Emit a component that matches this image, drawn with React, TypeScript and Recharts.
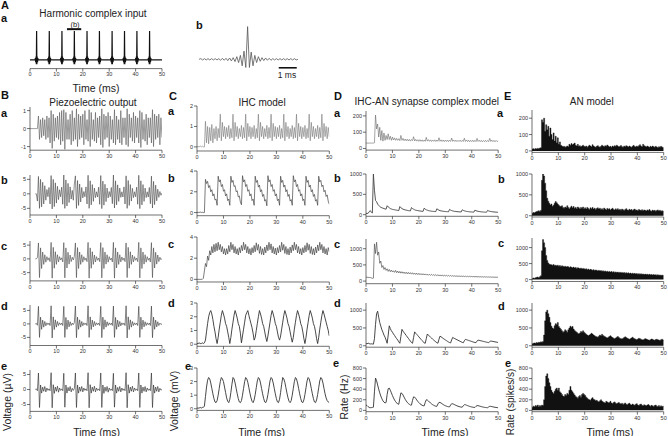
import { ReactNode } from "react";
import { Area, AreaChart, Line, LineChart, ReferenceLine, XAxis, YAxis } from "recharts";

// sampling step of the traces in columns B-E (ms per value)
const STEP = 0.4;
const timeTicks = [0, 10, 20, 30, 40, 50];

// A: harmonic complex input (time in ms, relative amplitude)
const inputT = [
  0,
  1.9, 2.05, 2.15, 2.3, 2.4, 2.5, 2.6, 2.7, 2.85, 2.95, 3.1,
  6.7, 6.85, 6.95, 7.1, 7.2, 7.3, 7.4, 7.5, 7.65, 7.75, 7.9,
  11.5, 11.65, 11.75, 11.9, 12.0, 12.1, 12.2, 12.3, 12.45, 12.55, 12.7,
  16.2, 16.35, 16.45, 16.6, 16.7, 16.8, 16.9, 17.0, 17.15, 17.25, 17.4,
  21.0, 21.15, 21.25, 21.4, 21.5, 21.6, 21.7, 21.8, 21.95, 22.05, 22.2,
  25.7, 25.85, 25.95, 26.1, 26.2, 26.3, 26.4, 26.5, 26.65, 26.75, 26.9,
  30.5, 30.65, 30.75, 30.9, 31.0, 31.1, 31.2, 31.3, 31.45, 31.55, 31.7,
  35.2, 35.35, 35.45, 35.6, 35.7, 35.8, 35.9, 36.0, 36.15, 36.25, 36.4,
  39.9, 40.05, 40.15, 40.3, 40.4, 40.5, 40.6, 40.7, 40.85, 40.95, 41.1,
  44.7, 44.85, 44.95, 45.1, 45.2, 45.3, 45.4, 45.5, 45.65, 45.75, 45.9,
  50,
];
const inputV = [
  0,
  0, .06, -.08, .12, -.15, 1, -.15, .12, -.08, .06, 0,
  0, .06, -.08, .12, -.15, 1, -.15, .12, -.08, .06, 0,
  0, .06, -.08, .12, -.15, 1, -.15, .12, -.08, .06, 0,
  0, .06, -.08, .12, -.15, 1, -.15, .12, -.08, .06, 0,
  0, .06, -.08, .12, -.15, 1, -.15, .12, -.08, .06, 0,
  0, .06, -.08, .12, -.15, 1, -.15, .12, -.08, .06, 0,
  0, .06, -.08, .12, -.15, 1, -.15, .12, -.08, .06, 0,
  0, .06, -.08, .12, -.15, 1, -.15, .12, -.08, .06, 0,
  0, .06, -.08, .12, -.15, 1, -.15, .12, -.08, .06, 0,
  0, .06, -.08, .12, -.15, 1, -.15, .12, -.08, .06, 0,
  0,
];
const zoomWindow = [14, 19.4];

// A b: one period, 0.1 ms per value
const periodStep = 0.1;
const periodWave = [
  0, .02, -.02, .02, -.02, .02, -.02, .02, -.02, .02,
  -.02, .02, -.03, .03, -.03, .03, -.04, .04, -.05, .05,
  -.07, .08, -.1, .12, -.2, .25, -.25, 1, -.25, .22,
  -.2, .12, -.1, .08, -.06, .05, -.04, .04, -.03, .03,
  -.03, .02, -.02, .02, -.02, .02, -.02, .02, -.02, .02,
  -.02, .02, -.02, .02, -.02, 0,
];
const scaleBar = [4.43, 5.43];

// B: piezoelectric output (µV, a in arbitrary units)
const piezoA = [
  0, 0, 0, 0, 0, 0, 0, 0,
  .7, -.6, .5, -.5, .6, -.4, .5, -.6, .7, -.5, .6, -.8,
  1.0, -1.1, .8, -.7, .6, -.5, .7, -.6, .9, -.9, 1.0, -.7,
  1.05, -1.15, .9, -.6, .5, -.6, .8, -.9, 1.0, -.7, .6,
  -.6, 1.1, -1.0, .8, -.6, .7, -.5, .8, -.9, 1.0, -.6, .5,
  -.7, 1.05, -1.0, .9, -.6, .5, -.7, .9, -.8, .6, -.5, .7,
  -.9, 1.1, -1.05, .8, -.6, .7, -.5, .9, -1.0, .7, -.6, .5,
  -.8, 1.05, -.9, .7, -.6, .5, -.8, 1.0, -.9, .6, -.5, .6,
  -.9, 1.1, -1.0, .8, -.5, .6, -.7, .9, -.8, .7, -.5, .6,
  -.8, 1.0, -1.05, .9, -.6, .5, -.7, .8, -.9, .6, -.5, .6,
  -.8, 1.05, -1.0, .8, -.6, .7, -.5, .8, -.9, .6, -.5,
];
const piezoB = [
  null, null, null, null, null, 0, 0, -2.5,
  6, -5, 5, -4.5, 4, -3.5, 2.8, -2.2, 1.5, -1, 2.2, -3.5,
  6.3, -5.2, 5, -4.4, 3.8, -3.2, 2.6, -2, 1.4, -1, 2.3, -3.6,
  6.5, -5, 4.8, -4.2, 3.6, -3, 2.4, -1.8, 1.2, -2.2, 3.4,
  6.2, -5, 4.6, -4, 3.4, -2.8, 2.2, -1.4, .8, -1, 2.4, -3.5,
  6.4, -5, 4.5, -3.8, 3.2, -2.6, 2, -1.3, .7, -1.1, 2.3, -3.6,
  6.3, -5.1, 4.4, -3.9, 3.3, -2.7, 2, -1.4, .8, -1, 2.2, -3.4,
  6.5, -4.9, 4.5, -3.8, 3.1, -2.6, 2, -1.2, .7, -1.1, 2.4, -3.5,
  6.2, -5, 4.6, -4, 3.2, -2.5, 1.9, -1.3, .7, -1, 2.3, -3.6,
  6.4, -5.1, 4.5, -3.8, 3.2, -2.6, 2, -1.3, .7, -1.1, 2.2, -3.4,
  6.1, -4.9, 4.3, -3.7, 3, -2.4, 1.6, -1.2, .8, -.5, .3,
];
const piezoC = [
  null, null, null, null, null, 0, 0, .5,
  5.8, -6.8, 4, -3.5, 2.5, -2, 1.5, -1.2, .8, -.5, .4, -1,
  6, -7, 4.2, -3.4, 2.6, -2, 1.5, -1.1, .8, -.4, .4, -1.1,
  5.9, -6.9, 4, -3.3, 2.4, -1.9, 1.4, -1, .6, -.4, .9,
  5.8, -6.8, 4.1, -3.5, 2.5, -2, 1.5, -1.2, .8, -.5, .3, -1,
  6, -7, 4, -3.4, 2.6, -2, 1.4, -1.1, .8, -.5, .3, -1,
  5.9, -6.9, 4.1, -3.5, 2.5, -1.9, 1.5, -1.2, .8, -.4, .3, -1.1,
  6, -7, 4, -3.3, 2.5, -2, 1.5, -1.1, .7, -.5, .3, -1,
  5.8, -6.8, 4.2, -3.4, 2.6, -2, 1.4, -1.1, .8, -.5, .3, -1,
  6, -6.9, 4, -3.5, 2.5, -1.9, 1.5, -1.2, .8, -.5, .3, -1.1,
  5.9, -6.8, 4, -3.3, 2.4, -1.9, 1.4, -1, .6, -.3, .2,
];
const piezoD = [
  null, null, null, null, null, 0, .2, -.5,
  6.5, -5, 2.5, -2, 1.4, -1.2, .9, -.7, .4, -.3, .3, -.6,
  6.7, -5.2, 2.6, -2.1, 1.5, -1.2, .9, -.6, .4, -.3, .3, -.6,
  6.5, -5, 2.4, -2, 1.4, -1.1, .8, -.6, .3, -.3, .5,
  6.6, -5.1, 2.5, -2, 1.5, -1.2, .9, -.7, .4, -.3, .3, -.6,
  6.7, -5, 2.6, -2.1, 1.4, -1.1, .9, -.6, .4, -.3, .3, -.6,
  6.5, -5.1, 2.5, -2, 1.5, -1.2, .8, -.6, .4, -.3, .3, -.6,
  6.6, -5, 2.4, -2, 1.4, -1.1, .9, -.7, .4, -.3, .3, -.6,
  6.7, -5.2, 2.6, -2.1, 1.5, -1.2, .9, -.6, .4, -.3, .3, -.6,
  6.5, -5, 2.5, -2, 1.4, -1.1, .8, -.6, .4, -.3, .3, -.6,
  6.6, -5.1, 2.5, -2, 1.4, -1.1, .8, -.6, .3, -.2, 0,
];
const piezoE = [
  null, null, null, null, null, 0, .2, -.4,
  5.5, -6, 1.5, -1.2, .8, -.6, 1, -.8, .5, -.3, .2, -.4,
  5.6, -6.1, 1.6, -1.3, .8, -.6, 1.1, -.9, .5, -.3, .2, -.4,
  5.4, -5.9, 1.5, -1.2, .7, -.5, 1, -.8, .4, -.3, .3,
  5.5, -6, 1.5, -1.2, .8, -.6, 1, -.8, .5, -.3, .2, -.4,
  5.6, -6.1, 1.6, -1.2, .8, -.6, 1.1, -.8, .5, -.3, .2, -.4,
  5.5, -6, 1.5, -1.3, .8, -.6, 1, -.9, .5, -.3, .2, -.4,
  5.4, -5.9, 1.5, -1.2, .7, -.6, 1, -.8, .5, -.3, .2, -.4,
  5.6, -6.1, 1.6, -1.2, .8, -.6, 1.1, -.8, .5, -.3, .2, -.4,
  5.5, -6, 1.5, -1.2, .8, -.6, 1, -.8, .5, -.3, .2, -.4,
  5.5, -6, 1.5, -1.2, .8, -.6, 1, -.8, .4, -.2, 0,
];

// C: IHC model (mV)
const ihcA = [
  0, .02, 0, .05, 0, .04, 0, 0, 1.25, .2,
  1.0, .15, .95, .3, 1.1, .2, .9, .4, 1.0, .3,
  .9, .45, 1.6, .3, 1.2, .5, 1.0, .4, .95, .5,
  1.05, .4, .9, .45, 1.6, .3, 1.2, .5, 1.0, .4,
  .9, .5, 1.05, .4, .95, .45, 1.6, .3, 1.15, .5,
  1.0, .4, .95, .5, 1.05, .4, .9, .45, 1.6, .3,
  1.2, .5, 1.0, .4, .9, .5, 1.05, .4, .95, .45,
  1.6, .3, 1.15, .5, 1.0, .4, .95, .5, 1.05, .4,
  .9, .45, 1.6, .3, 1.2, .5, 1.0, .4, .9, .5,
  1.05, .4, .95, .45, 1.6, .3, 1.15, .5, 1.0, .4,
  .95, .5, 1.05, .4, .9, .45, 1.6, .3, 1.2, .5,
  1.0, .4, .9, .5, 1.05, .4, .95, .45, 1.6, .3,
  1.15, .5, 1.0, .4, .95, .5,
];
const ihcB = [
  0, .03, 0, .06, 0, .03, 0, 0, 3.2, 2.8,
  3.0, 2.4, 2.6, 2.0, 2.2, 1.6, 1.8, 1.2, 1.3, .7,
  3.5, 2.95, 3.15, 2.5, 2.7, 2.05, 2.2, 1.6, 1.8, 1.15,
  1.3, .7, 3.5, 2.9, 3.1, 2.5, 2.6, 2.0, 2.1, 1.5,
  1.6, 1.0, .75, 3.55, 2.95, 3.15, 2.5, 2.7, 2.05, 2.2,
  1.6, 1.8, 1.15, 1.3, .7, 3.5, 2.9, 3.1, 2.45, 2.65,
  2.0, 2.2, 1.55, 1.75, 1.1, 1.25, .65, 3.55, 2.95, 3.15,
  2.5, 2.7, 2.05, 2.2, 1.6, 1.8, 1.15, 1.3, .7, 3.5,
  2.9, 3.1, 2.45, 2.65, 2.0, 2.2, 1.55, 1.75, 1.1, 1.25,
  .7, 3.55, 2.95, 3.15, 2.5, 2.7, 2.05, 2.2, 1.6, 1.8,
  1.15, 1.3, .7, 3.5, 2.9, 3.1, 2.45, 2.65, 2.0, 2.2,
  1.55, 1.75, 1.1, 1.25, .7, 3.5, 2.95, 3.1, 2.5, 2.65,
  2.0, 2.15, 1.55, 1.7, 1.1, .8,
];
const ihcC = [
  0, 0, 0, 0, 0, 0, .1, .8, 1.5, 1.2,
  2.2, 1.8, 2.7, 2.3, 3.1, 2.5, 3.3, 2.6, 3.4, 2.7,
  3.5, 2.8, 3.3, 2.6, 3.1, 2.4, 2.9, 2.3, 2.9, 2.4,
  3.2, 2.6, 3.5, 2.8, 3.3, 2.5, 3.1, 2.4, 2.9, 2.3,
  3.0, 2.5, 3.2, 2.7, 3.5, 2.8, 3.3, 2.5, 3.1, 2.4,
  2.9, 2.3, 3.0, 2.5, 3.2, 2.6, 3.45, 2.75, 3.3, 2.45,
  3.1, 2.35, 2.9, 2.3, 3.05, 2.5, 3.25, 2.7, 3.5, 2.8,
  3.35, 2.5, 3.1, 2.4, 2.95, 2.3, 3.0, 2.5, 3.2, 2.6,
  3.5, 2.75, 3.3, 2.45, 3.1, 2.35, 2.9, 2.3, 3.05, 2.5,
  3.25, 2.7, 3.5, 2.8, 3.3, 2.5, 3.1, 2.4, 2.9, 2.3,
  3.0, 2.5, 3.2, 2.6, 3.45, 2.75, 3.3, 2.45, 3.1, 2.35,
  2.9, 2.3, 3.05, 2.5, 3.25, 2.7, 3.5, 2.8, 3.3, 2.5,
  3.1, 2.4, 2.9, 2.3, 3.0, 2.6,
];
const ihcD = [
  .05, .05, .1, .05, .05, .1, .05, .1, .3, .9,
  1.5, 2.0, 2.3, 2.45, 2.2, 1.8, 1.3, .9, .4, .05,
  .5, 1.1, 1.6, 2.1, 2.45, 2.2, 1.9, 1.5, 1.3, .9,
  .5, .05, .5, 1.1, 1.6, 2.1, 2.45, 2.2, 1.9, 1.5,
  1.3, .8, .1, .6, 1.1, 1.6, 2.1, 2.3, 2.45, 2.1,
  1.8, 1.5, 1.2, .8, .3, .5, 1.0, 1.5, 2.0, 2.45,
  2.2, 1.9, 1.5, 1.3, .9, .5, .2, .6, 1.1, 1.6,
  2.1, 2.45, 2.2, 1.9, 1.5, 1.3, .9, .5, .3, .6,
  1.1, 1.6, 2.1, 2.45, 2.2, 1.9, 1.5, 1.3, .9, .5,
  .15, .5, 1.1, 1.6, 2.1, 2.45, 2.2, 1.9, 1.5, 1.3,
  .9, .4, .05, .5, 1.1, 1.6, 2.1, 2.45, 2.2, 1.9,
  1.5, 1.3, .9, .4, .05, .5, 1.1, 1.6, 2.1, 2.45,
  2.2, 1.9, 1.6, 1.3, 1.0, .6,
];
const ihcE = [
  .05, .05, .05, .1, .05, .1, .1, .2, .9, 1.6,
  2.1, 2.3, 2.2, 1.9, 1.5, 1.1, .75, .5, .45, .6,
  1.0, 1.5, 2.0, 2.3, 2.2, 2.0, 1.6, 1.2, .8, .55,
  .45, .7, 1.2, 1.8, 2.3, 2.2, 1.9, 1.5, 1.1, .75,
  .5, .45, .6, 1.0, 1.5, 2.0, 2.3, 2.2, 1.95, 1.55,
  1.15, .8, .55, .45, .65, 1.05, 1.55, 2.05, 2.3, 2.2,
  1.9, 1.5, 1.1, .75, .5, .45, .65, 1.05, 1.55, 2.05,
  2.3, 2.2, 1.9, 1.5, 1.1, .75, .5, .45, .7, 1.2,
  1.8, 2.3, 2.2, 1.95, 1.55, 1.15, .8, .55, .45, .6,
  1.0, 1.5, 2.0, 2.3, 2.2, 1.9, 1.5, 1.1, .75, .5,
  .45, .65, 1.05, 1.55, 2.05, 2.3, 2.2, 1.9, 1.5, 1.1,
  .75, .5, .45, .65, 1.05, 1.55, 2.05, 2.3, 2.2, 1.9,
  1.5, 1.1, .8, .6, .5, .45,
];

// D: IHC-AN synapse model (Hz)
const synA = [
  33, 33, 33, 33, 33, 33, 33, 33, 35, 205,
  120, 150, 70, 130, 50, 110, 45, 95, 50, 80,
  55, 90, 55, 75, 50, 70, 52, 65, 50, 62,
  50, 60, 48, 80, 50, 62, 48, 58, 47, 57,
  46, 56, 45, 55, 48, 72, 46, 56, 45, 54,
  44, 54, 44, 53, 43, 52, 44, 68, 45, 54,
  44, 53, 43, 52, 44, 53, 43, 52, 44, 66,
  44, 53, 43, 52, 42, 51, 43, 52, 42, 51,
  43, 64, 44, 52, 43, 51, 42, 50, 43, 51,
  42, 50, 43, 63, 43, 52, 42, 51, 41, 50,
  42, 51, 41, 50, 42, 62, 43, 51, 42, 50,
  41, 49, 42, 50, 41, 49, 42, 62, 43, 51,
  42, 50, 41, 49, 42, 48,
];
const synB = [
  30, 30, 35, 70, 100, 60, 40, 1000, 600, 350,
  320, 260, 230, 200, 180, 170, 160, 150, 140, 135,
  220, 190, 170, 150, 140, 130, 125, 120, 115, 110,
  105, 100, 200, 170, 150, 135, 125, 118, 112, 106,
  100, 96, 92, 175, 150, 135, 120, 110, 105, 100,
  95, 90, 87, 84, 82, 160, 135, 120, 110, 100,
  95, 90, 85, 82, 80, 78, 76, 145, 125, 110,
  100, 92, 88, 84, 80, 77, 75, 73, 71, 130,
  112, 100, 92, 86, 81, 78, 75, 72, 70, 68,
  66, 120, 105, 95, 87, 81, 77, 73, 70, 68,
  66, 64, 62, 112, 98, 88, 82, 77, 73, 70,
  67, 65, 63, 61, 60, 105, 92, 84, 78, 73,
  70, 67, 64, 62, 60, 58,
];
const synC = [
  120, 118, 115, 112, 110, 100, 85, 90, 1150, 850,
  1200, 800, 900, 550, 620, 420, 480, 360, 420, 330,
  380, 300, 360, 290, 340, 280, 320, 270, 330, 260,
  310, 250, 300, 245, 290, 240, 280, 230, 275, 225,
  270, 220, 262, 215, 258, 210, 250, 205, 245, 200,
  240, 195, 232, 192, 228, 188, 222, 185, 218, 180,
  212, 178, 208, 175, 202, 172, 198, 168, 195, 165,
  190, 162, 186, 160, 182, 158, 178, 155, 175, 152,
  172, 150, 168, 148, 165, 146, 162, 144, 160, 142,
  158, 140, 155, 138, 153, 136, 150, 135, 148, 133,
  146, 132, 144, 130, 142, 128, 140, 127, 138, 126,
  136, 124, 134, 123, 132, 122, 130, 120, 128, 119,
  126, 118, 124, 116, 122, 118,
];
const synD = [
  60, 55, 75, 60, 50, 55, 50, 45, 200, 600,
  900, 970, 800, 650, 550, 450, 380, 300, 240, 160,
  70, 300, 560, 480, 420, 380, 330, 290, 240, 200,
  160, 110, 70, 260, 460, 410, 370, 330, 290, 250,
  210, 170, 130, 90, 70, 230, 390, 350, 320, 285,
  250, 215, 180, 150, 115, 80, 70, 200, 330, 300,
  270, 240, 215, 185, 160, 135, 110, 85, 72, 180,
  270, 250, 230, 205, 185, 165, 145, 125, 105, 90,
  80, 165, 235, 215, 200, 185, 170, 155, 140, 125,
  110, 95, 85, 140, 180, 170, 160, 150, 140, 130,
  120, 110, 100, 92, 88, 130, 160, 152, 145, 138,
  130, 122, 115, 108, 100, 94, 90, 115, 132, 128,
  122, 116, 110, 104, 98, 92,
];
const synE = [
  100, 90, 70, 55, 50, 52, 55, 60, 350, 610,
  560, 480, 400, 330, 270, 220, 180, 155, 140, 150,
  300, 410, 420, 380, 330, 280, 235, 195, 165, 140,
  120, 115, 230, 330, 320, 290, 250, 210, 180, 150,
  130, 115, 100, 100, 190, 255, 250, 225, 195, 170,
  145, 125, 110, 97, 88, 85, 150, 200, 195, 178,
  158, 138, 122, 108, 96, 86, 78, 76, 120, 150,
  150, 138, 124, 110, 98, 88, 80, 73, 68, 66,
  100, 125, 124, 115, 105, 95, 86, 78, 72, 66,
  62, 60, 88, 107, 106, 98, 90, 82, 75, 69,
  64, 60, 57, 55, 76, 90, 89, 83, 77, 71,
  66, 61, 57, 54, 52, 50, 65, 76, 76, 71,
  66, 62, 58, 55, 52, 50,
];

// E: AN model PSTHs (spikes/s), 0.4 ms bins
const anA = [
  12, 14, 10, 15, 12, 16, 14, 18, 20, 190,
  175, 200, 120, 160, 130, 150, 90, 140, 100, 70,
  110, 60, 90, 50, 80, 40, 55, 35, 30, 25,
  28, 22, 26, 30, 25, 40, 35, 45, 38, 42,
  48, 35, 30, 40, 28, 32, 25, 30, 35, 28,
  25, 30, 22, 28, 35, 30, 26, 38, 30, 25,
  22, 28, 32, 26, 22, 28, 35, 30, 25, 32,
  28, 36, 30, 24, 28, 22, 30, 26, 32, 28,
  35, 30, 24, 28, 33, 26, 22, 30, 25, 32,
  28, 24, 30, 26, 22, 28, 34, 27, 24, 30,
  26, 32, 38, 30, 26, 40, 32, 28, 24, 30,
  26, 22, 28, 24, 30, 26, 22, 28, 24, 20,
  26, 22, 28, 24, 20, 22,
];
const anB = [
  60, 80, 70, 90, 100, 110, 120, 100, 130, 850,
  1000, 950, 780, 600, 420, 350, 300, 260, 280, 230,
  250, 300, 340, 310, 280, 250, 230, 220, 240, 200,
  180, 210, 190, 240, 200, 170, 200, 230, 190, 220,
  180, 200, 170, 210, 190, 160, 200, 180, 210, 170,
  190, 160, 200, 175, 150, 190, 170, 200, 160, 180,
  150, 175, 190, 160, 180, 150, 170, 145, 185, 160,
  140, 175, 155, 170, 140, 160, 180, 150, 135, 165,
  145, 170, 140, 155, 130, 160, 145, 125, 150, 170,
  140, 130, 155, 135, 150, 125, 145, 160, 130, 140,
  120, 150, 135, 125, 145, 120, 140, 130, 115, 140,
  125, 150, 120, 110, 135, 120, 130, 110, 125, 140,
  115, 130, 105, 120, 110, 100,
];
const anC = [
  30, 50, 40, 60, 70, 80, 60, 90, 120, 900,
  1250, 1150, 1000, 750, 600, 520, 480, 470, 460, 450,
  470, 440, 450, 430, 450, 420, 440, 410, 430, 420,
  400, 420, 390, 410, 400, 380, 400, 385, 370, 390,
  360, 380, 350, 370, 360, 340, 360, 330, 350, 340,
  320, 340, 310, 330, 300, 320, 310, 290, 310, 280,
  300, 290, 270, 290, 265, 280, 260, 275, 250, 270,
  245, 260, 240, 255, 235, 250, 230, 245, 225, 240,
  220, 235, 215, 230, 210, 225, 205, 220, 200, 215,
  195, 210, 190, 205, 185, 200, 180, 195, 175, 190,
  170, 185, 168, 180, 165, 175, 160, 172, 155, 168,
  150, 165, 148, 160, 145, 155, 140, 152, 138, 150,
  135, 145, 130, 142, 128, 135,
];
const anD = [
  60, 70, 80, 70, 90, 80, 100, 90, 110, 100,
  120, 300, 700, 950, 1000, 900, 800, 650, 550, 500,
  480, 560, 620, 600, 650, 540, 500, 460, 420, 380,
  400, 450, 420, 380, 450, 500, 550, 520, 540, 470,
  430, 400, 380, 350, 330, 360, 400, 380, 420, 380,
  350, 320, 300, 280, 300, 320, 350, 330, 300, 280,
  260, 250, 240, 270, 300, 280, 320, 290, 270, 250,
  230, 220, 240, 260, 280, 250, 230, 210, 200, 220,
  240, 260, 230, 210, 200, 190, 210, 230, 250, 230,
  210, 195, 180, 200, 220, 240, 210, 195, 180, 170,
  190, 210, 200, 185, 170, 160, 180, 200, 190, 175,
  165, 155, 170, 190, 180, 165, 155, 175, 185, 170,
  160, 150, 170, 185, 165, 155,
];
const anE = [
  60, 80, 70, 90, 80, 100, 70, 90, 80, 100,
  90, 200, 450, 650, 690, 600, 520, 450, 380, 340,
  320, 360, 400, 420, 380, 420, 350, 330, 300, 270,
  260, 300, 280, 320, 300, 380, 450, 380, 350, 320,
  290, 260, 250, 230, 260, 280, 250, 300, 320, 300,
  280, 250, 230, 210, 200, 190, 220, 240, 210, 200,
  180, 190, 170, 160, 180, 200, 175, 160, 150, 140,
  170, 160, 145, 150, 170, 140, 130, 150, 160, 135,
  125, 140, 150, 130, 120, 135, 110, 125, 140, 115,
  105, 125, 135, 110, 100, 120, 105, 95, 115, 125,
  100, 90, 110, 120, 95, 85, 105, 95, 85, 100,
  110, 90, 80, 95, 85, 75, 90, 100, 80, 75,
  90, 70, 85, 75, 80, 70,
];

type Pt = { t: number; v: number | null };

const toRows = (vals: (number | null)[], step = STEP): Pt[] =>
  vals.map((v, i) => ({ t: Math.round(i * step * 100) / 100, v }));

const FONT = "'Liberation Sans', Arial, Helvetica, sans-serif";
const YW = 22;
const RM = 8;
const TM = 4;
const XH = 12;
const TICK = { fontSize: 5.5, fill: "#333", fontFamily: FONT };
const AXIS = { stroke: "#333", strokeWidth: 0.7 };

interface PanelProps {
  data: Pt[];
  x0: number;
  x1: number;
  yTop: number;
  yBot: number;
  yDomain: [number, number];
  yTicks?: number[];
  xDomain?: [number, number];
  kind?: "line" | "hist";
  color?: string;
  lw?: number;
  showX?: boolean;
  showY?: boolean;
  children?: ReactNode;
}

function Panel({
  data, x0, x1, yTop, yBot, yDomain, yTicks = [], xDomain = [0, 50],
  kind = "line", color = "#444", lw = 0.7, showX = true, showY = true, children,
}: PanelProps) {
  const width = x1 - x0 + YW + RM;
  const height = yBot - yTop + TM + XH;
  const Chart = kind === "hist" ? AreaChart : LineChart;
  return (
    <div style={{ position: "absolute", left: x0 - YW, top: yTop - TM, width, height }}>
      <Chart
        width={width}
        height={height}
        data={data}
        margin={{ top: TM, right: RM, left: showY ? 0 : YW, bottom: showX ? 0 : XH }}
      >
        <XAxis
          dataKey="t"
          type="number"
          domain={xDomain}
          ticks={timeTicks}
          interval={0}
          allowDataOverflow
          height={XH}
          hide={!showX}
          tickSize={3}
          tickMargin={1}
          tick={TICK}
          axisLine={AXIS}
          tickLine={AXIS}
        />
        <YAxis
          type="number"
          domain={yDomain}
          ticks={yTicks}
          interval={0}
          allowDataOverflow
          width={YW}
          hide={!showY}
          tickSize={3}
          tickMargin={1}
          tick={TICK}
          axisLine={AXIS}
          tickLine={AXIS}
        />
        {kind === "hist" ? (
          <Area
            type="stepAfter"
            dataKey="v"
            stroke={color}
            strokeWidth={0.4}
            fill={color}
            fillOpacity={1}
            baseValue={0}
            isAnimationActive={false}
          />
        ) : (
          <Line type="linear" dataKey="v" stroke={color} strokeWidth={lw} dot={false} isAnimationActive={false} />
        )}
        {children}
      </Chart>
    </div>
  );
}

const inputRows: Pt[] = inputT.map((t, i) => ({ t, v: inputV[i] }));

export default function App() {
  const bx = { x0: 30, x1: 162 };
  const cx = { x0: 197, x1: 329.3 };
  const dx = { x0: 365.5, x1: 497.7 };
  const ex = { x0: 532.3, x1: 664 };
  const vTicks = [-5, 0, 5];
  const kTicks = [0, 500, 1000];
  const eTicks = [0, 200, 400, 600, 800];
  const letter = { fontSize: 11, fontWeight: 700, fill: "#111", fontFamily: FONT };
  const title = { fontSize: 10, fill: "#222", fontFamily: FONT, textAnchor: "middle" as const };
  const axisTitle = { fontSize: 10.5, fill: "#222", fontFamily: FONT, textAnchor: "middle" as const };

  return (
    <div style={{ position: "absolute", left: 0, top: 0, width: 668, height: 436, background: "#fff" }}>
      {/* A */}
      <Panel data={inputRows} {...bx} yTop={28.1} yBot={68.7} yDomain={[-0.3, 1.1]} showY={false} color="#111" lw={1.2}>
        <ReferenceLine
          segment={[{ x: zoomWindow[0], y: 1.06 }, { x: zoomWindow[1], y: 1.06 }]}
          stroke="#111"
          strokeWidth={2}
          ifOverflow="visible"
        />
      </Panel>
      <Panel
        data={toRows(periodWave, periodStep)}
        x0={199}
        x1={298}
        yTop={25}
        yBot={69.1}
        yDomain={[-0.3, 1.05]}
        xDomain={[0, 5.5]}
        showX={false}
        showY={false}
        color="#555"
        lw={0.8}
      >
        <ReferenceLine
          segment={[{ x: scaleBar[0], y: -0.26 }, { x: scaleBar[1], y: -0.26 }]}
          stroke="#111"
          strokeWidth={1.6}
          ifOverflow="visible"
        />
      </Panel>

      {/* B */}
      <Panel data={toRows(piezoA)} {...bx} yTop={107.4} yBot={150.6} yDomain={[-1.2, 1.2]} yTicks={[-1, 0, 1]} color="#555" lw={0.6} />
      <Panel data={toRows(piezoB)} {...bx} yTop={175.2} yBot={215.2} yDomain={[-7.3, 6.5]} yTicks={vTicks} color="#444" lw={0.6} />
      <Panel data={toRows(piezoC)} {...bx} yTop={240.6} yBot={280.5} yDomain={[-8, 6.5]} yTicks={vTicks} color="#444" lw={0.6} />
      <Panel data={toRows(piezoD)} {...bx} yTop={305.1} yBot={345.6} yDomain={[-8, 7]} yTicks={vTicks} color="#333" lw={0.6} />
      <Panel data={toRows(piezoE)} {...bx} yTop={369.5} yBot={410.9} yDomain={[-7.3, 6.5]} yTicks={vTicks} color="#222" lw={0.6} />

      {/* C */}
      <Panel data={toRows(ihcA)} {...cx} yTop={106} yBot={151} yDomain={[-0.2, 2]} yTicks={[0, 1, 2]} color="#777" lw={0.6} />
      <Panel data={toRows(ihcB)} {...cx} yTop={171} yBot={215.7} yDomain={[-0.3, 4]} yTicks={[0, 2, 4]} color="#444" lw={0.7} />
      <Panel data={toRows(ihcC)} {...cx} yTop={236.7} yBot={281.7} yDomain={[-0.25, 4]} yTicks={[0, 2, 4]} color="#444" lw={0.7} />
      <Panel data={toRows(ihcD)} {...cx} yTop={302.7} yBot={346} yDomain={[-0.15, 3]} yTicks={[0, 1, 2, 3]} color="#333" lw={0.9} />
      <Panel data={toRows(ihcE)} {...cx} yTop={368.3} yBot={410.7} yDomain={[-0.12, 3]} yTicks={[0, 1, 2, 3]} color="#333" lw={0.9} />

      {/* D */}
      <Panel data={toRows(synA)} {...dx} yTop={110.8} yBot={149.9} yDomain={[-10, 230]} yTicks={[0, 100, 200]} color="#666" lw={0.6} />
      <Panel data={toRows(synB)} {...dx} yTop={174.3} yBot={216.6} yDomain={[-40, 1000]} yTicks={kTicks} color="#444" lw={0.9} />
      <Panel data={toRows(synC)} {...dx} yTop={238.6} yBot={283.3} yDomain={[-80, 1300]} yTicks={kTicks} color="#555" lw={0.7} />
      <Panel data={toRows(synD)} {...dx} yTop={302.9} yBot={347.1} yDomain={[-40, 1200]} yTicks={kTicks} color="#333" lw={0.9} />
      <Panel data={toRows(synE)} {...dx} yTop={368.3} yBot={412} yDomain={[-25, 800]} yTicks={eTicks} color="#333" lw={0.9} />

      {/* E */}
      <Panel data={toRows(anA)} {...ex} yTop={110.1} yBot={152.5} yDomain={[-9, 250]} yTicks={[0, 100, 200]} kind="hist" color="#111" />
      <Panel data={toRows(anB)} {...ex} yTop={174.3} yBot={217.3} yDomain={[-30, 1000]} yTicks={kTicks} kind="hist" color="#111" />
      <Panel data={toRows(anC)} {...ex} yTop={238.4} yBot={281.9} yDomain={[-60, 1300]} yTicks={kTicks} kind="hist" color="#111" />
      <Panel data={toRows(anD)} {...ex} yTop={302.9} yBot={347.1} yDomain={[-40, 1200]} yTicks={kTicks} kind="hist" color="#111" />
      <Panel data={toRows(anE)} {...ex} yTop={368.3} yBot={412} yDomain={[-25, 800]} yTicks={eTicks} kind="hist" color="#111" />

      <svg width={668} height={436} style={{ position: "absolute", left: 0, top: 0, pointerEvents: "none" }}>
        <g dominantBaseline="central">
          <text x={1} y={5} {...letter}>A</text>
          <text x={1} y={18} {...letter}>a</text>
          <text x={93} y={13.5} {...title}>Harmonic complex input</text>
          <text x={75} y={24} fontSize={7.5} fill="#222" fontFamily={FONT} textAnchor="middle">(b)</text>
          <text x={196} y={25} {...letter}>b</text>
          <text x={287} y={75} fontSize={8.5} fill="#222" fontFamily={FONT} textAnchor="middle">1 ms</text>
          <text x={96} y={88} {...axisTitle}>Time (ms)</text>

          <text x={1} y={95} {...letter}>B</text>
          <text x={93} y={102} {...title}>Piezoelectric output</text>
          <text x={1} y={112.7} {...letter}>a</text>
          <text x={1} y={180} {...letter}>b</text>
          <text x={1} y={245.7} {...letter}>c</text>
          <text x={1} y={306} {...letter}>d</text>
          <text x={1} y={366} {...letter}>e</text>
          <text transform="translate(7,402) rotate(-90)" {...axisTitle}>Voltage (µV)</text>
          <text x={96.7} y={431.5} {...axisTitle}>Time (ms)</text>

          <text x={169} y={96} {...letter}>C</text>
          <text x={262} y={102} {...title}>IHC model</text>
          <text x={168} y={111} {...letter}>a</text>
          <text x={168} y={178.3} {...letter}>b</text>
          <text x={168} y={244.3} {...letter}>c</text>
          <text x={168} y={302.7} {...letter}>d</text>
          <text x={185} y={366} {...letter}>e</text>
          <text transform="translate(174,401) rotate(-90)" {...axisTitle}>Voltage (mV)</text>
          <text x={261.7} y={431.5} {...axisTitle}>Time (ms)</text>

          <text x={334} y={96} {...letter}>D</text>
          <text x={426.7} y={101.7} {...title}>IHC-AN synapse  complex model</text>
          <text x={334} y={112.7} {...letter}>a</text>
          <text x={334} y={178.3} {...letter}>b</text>
          <text x={334} y={244} {...letter}>c</text>
          <text x={334} y={302.7} {...letter}>d</text>
          <text x={333} y={363.3} {...letter}>e</text>
          <text transform="translate(344,397) rotate(-90)" {...axisTitle}>Rate (Hz)</text>
          <text x={445} y={431.5} {...axisTitle}>Time (ms)</text>

          <text x={504} y={96} {...letter}>E</text>
          <text x={591.7} y={101.7} {...title}>AN model</text>
          <text x={497} y={113.3} {...letter}>a</text>
          <text x={498} y={179.3} {...letter}>b</text>
          <text x={498} y={243.3} {...letter}>c</text>
          <text x={498} y={306} {...letter}>d</text>
          <text x={505} y={363} {...letter}>e</text>
          <text transform="translate(510,402) rotate(-90)" fontSize={10} fill="#222" fontFamily={FONT} textAnchor="middle">
            Rate (spikes/s)
          </text>
          <text x={610} y={431.5} {...axisTitle}>Time (ms)</text>
        </g>
      </svg>
    </div>
  );
}
